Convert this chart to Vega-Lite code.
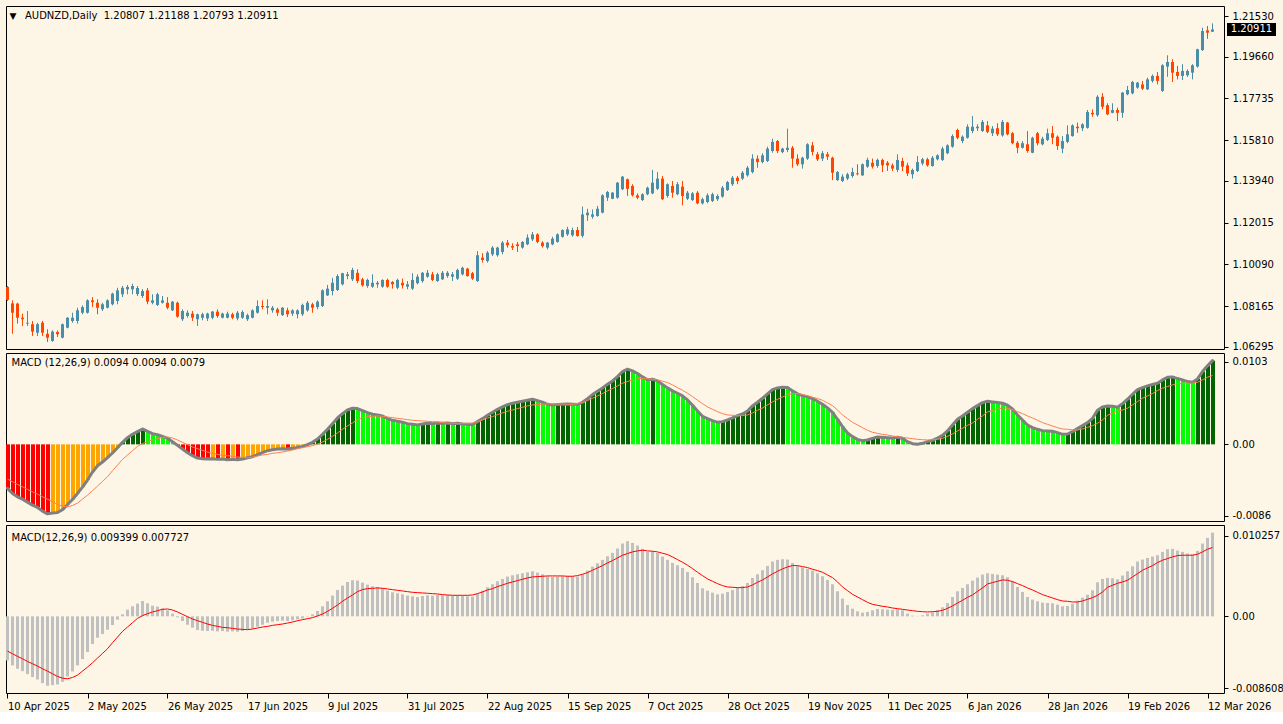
{
"$schema": "https://vega.github.io/schema/vega-lite/v6.json",
"background": "#FDF5E6",
"padding": {"left": 4, "top": 5, "right": 0, "bottom": 0},
"bounds": "flush",
"spacing": 4,
"config": {
  "font": "DejaVu Sans",
  "view": {"stroke": "#000000", "strokeWidth": 1},
  "axis": {"labelFont": "DejaVu Sans", "labelFontSize": 10, "labelColor": "#000000", "tickColor": "#000000", "domain": false, "grid": false, "ticks": true, "tickSize": 4, "labelPadding": 4, "labelBound": false, "labelFlush": false, "labelOverlap": false}
},
"data": {"values": [
{"i":0,"o":1.0905,"h":1.0909,"l":1.0840,"c":1.0845,"m":-0.00495,"s":-0.0039},
{"i":1,"o":1.0829,"h":1.0843,"l":1.0689,"c":1.0786,"m":-0.005513,"s":-0.0042},
{"i":2,"o":1.0828,"h":1.0832,"l":1.0736,"c":1.0763,"m":-0.005888,"s":-0.0045},
{"i":3,"o":1.0763,"h":1.0782,"l":1.0725,"c":1.0756,"m":-0.00615,"s":-0.004763},
{"i":4,"o":1.0736,"h":1.0794,"l":1.0725,"c":1.0740,"m":-0.006488,"s":-0.005063},
{"i":5,"o":1.0733,"h":1.0748,"l":1.0679,"c":1.0699,"m":-0.006825,"s":-0.005325},
{"i":6,"o":1.0694,"h":1.0740,"l":1.0679,"c":1.0733,"m":-0.007088,"s":-0.005588},
{"i":7,"o":1.0740,"h":1.0748,"l":1.0679,"c":1.0694,"m":-0.0075,"s":-0.005888},
{"i":8,"o":1.0689,"h":1.0710,"l":1.0651,"c":1.0671,"m":-0.0078,"s":-0.00615},
{"i":9,"o":1.0656,"h":1.0705,"l":1.0652,"c":1.0699,"m":-0.007725,"s":-0.00645},
{"i":10,"o":1.0697,"h":1.0705,"l":1.0674,"c":1.0687,"m":-0.00765,"s":-0.00675},
{"i":11,"o":1.0671,"h":1.0736,"l":1.0668,"c":1.0733,"m":-0.00735,"s":-0.006938},
{"i":12,"o":1.0717,"h":1.0766,"l":1.0714,"c":1.0763,"m":-0.00675,"s":-0.007013},
{"i":13,"o":1.0748,"h":1.0786,"l":1.0740,"c":1.0763,"m":-0.006188,"s":-0.006863},
{"i":14,"o":1.0748,"h":1.0809,"l":1.0736,"c":1.0797,"m":-0.005513,"s":-0.0066},
{"i":15,"o":1.0786,"h":1.0820,"l":1.0779,"c":1.0812,"m":-0.0048,"s":-0.00615},
{"i":16,"o":1.0786,"h":1.0848,"l":1.0782,"c":1.0843,"m":-0.004013,"s":-0.0057},
{"i":17,"o":1.0843,"h":1.0858,"l":1.0812,"c":1.0835,"m":-0.003113,"s":-0.005213},
{"i":18,"o":1.0832,"h":1.0848,"l":1.0779,"c":1.0809,"m":-0.0024,"s":-0.004688},
{"i":19,"o":1.0802,"h":1.0832,"l":1.0794,"c":1.0825,"m":-0.001988,"s":-0.004163},
{"i":20,"o":1.0809,"h":1.0848,"l":1.0806,"c":1.0843,"m":-0.0015,"s":-0.003638},
{"i":21,"o":1.0825,"h":1.0878,"l":1.0820,"c":1.0874,"m":-0.000975,"s":-0.002963},
{"i":22,"o":1.0840,"h":1.0901,"l":1.0825,"c":1.0889,"m":-0.000375,"s":-0.002325},
{"i":23,"o":1.0871,"h":1.0909,"l":1.0858,"c":1.0901,"m":0.000225,"s":-0.001688},
{"i":24,"o":1.0894,"h":1.0914,"l":1.0871,"c":1.0905,"m":0.00075,"s":-0.0012},
{"i":25,"o":1.0894,"h":1.0920,"l":1.0871,"c":1.0909,"m":0.001125,"s":-0.000713},
{"i":26,"o":1.0872,"h":1.0909,"l":1.0863,"c":1.0900,"m":0.001425,"s":-0.000225},
{"i":27,"o":1.0863,"h":1.0895,"l":1.0854,"c":1.0886,"m":0.001725,"s":0.000075},
{"i":28,"o":1.0889,"h":1.0900,"l":1.0825,"c":1.0837,"m":0.001463,"s":0.0003},
{"i":29,"o":1.0832,"h":1.0871,"l":1.0825,"c":1.0843,"m":0.0012,"s":0.000488},
{"i":30,"o":1.0822,"h":1.0878,"l":1.0817,"c":1.0871,"m":0.001088,"s":0.000638},
{"i":31,"o":1.0832,"h":1.0863,"l":1.0828,"c":1.0843,"m":0.0009,"s":0.000788},
{"i":32,"o":1.0832,"h":1.0858,"l":1.0802,"c":1.0809,"m":0.000675,"s":0.000825},
{"i":33,"o":1.0797,"h":1.0840,"l":1.0794,"c":1.0837,"m":0.0003,"s":0.000713},
{"i":34,"o":1.0832,"h":1.0837,"l":1.0763,"c":1.0768,"m":-0.000113,"s":0.000488},
{"i":35,"o":1.0756,"h":1.0802,"l":1.0748,"c":1.0794,"m":-0.000525,"s":0.000225},
{"i":36,"o":1.0771,"h":1.0797,"l":1.0763,"c":1.0786,"m":-0.000938,"s":-0.0000375},
{"i":37,"o":1.0782,"h":1.0794,"l":1.0748,"c":1.0763,"m":-0.001275,"s":-0.0003},
{"i":38,"o":1.0756,"h":1.0782,"l":1.0725,"c":1.0779,"m":-0.001538,"s":-0.000488},
{"i":39,"o":1.0763,"h":1.0786,"l":1.0751,"c":1.0779,"m":-0.001613,"s":-0.000675},
{"i":40,"o":1.0760,"h":1.0786,"l":1.0748,"c":1.0782,"m":-0.00165,"s":-0.000863},
{"i":41,"o":1.0763,"h":1.0794,"l":1.0756,"c":1.0791,"m":-0.001613,"s":-0.001013},
{"i":42,"o":1.0791,"h":1.0802,"l":1.0763,"c":1.0771,"m":-0.001688,"s":-0.001125},
{"i":43,"o":1.0763,"h":1.0786,"l":1.0760,"c":1.0782,"m":-0.00165,"s":-0.001238},
{"i":44,"o":1.0763,"h":1.0791,"l":1.0760,"c":1.0782,"m":-0.001725,"s":-0.001275},
{"i":45,"o":1.0779,"h":1.0786,"l":1.0756,"c":1.0763,"m":-0.001688,"s":-0.00135},
{"i":46,"o":1.0760,"h":1.0794,"l":1.0751,"c":1.0786,"m":-0.001725,"s":-0.001425},
{"i":47,"o":1.0763,"h":1.0797,"l":1.0758,"c":1.0789,"m":-0.00165,"s":-0.001463},
{"i":48,"o":1.0756,"h":1.0782,"l":1.0748,"c":1.0775,"m":-0.0015,"s":-0.0015},
{"i":49,"o":1.0763,"h":1.0802,"l":1.0760,"c":1.0797,"m":-0.001388,"s":-0.001425},
{"i":50,"o":1.0786,"h":1.0843,"l":1.0782,"c":1.0817,"m":-0.001163,"s":-0.001313},
{"i":51,"o":1.0817,"h":1.0843,"l":1.0802,"c":1.0812,"m":-0.000938,"s":-0.0012},
{"i":52,"o":1.0809,"h":1.0848,"l":1.0779,"c":1.0817,"m":-0.000713,"s":-0.001125},
{"i":53,"o":1.0797,"h":1.0817,"l":1.0786,"c":1.0809,"m":-0.0006,"s":-0.001013},
{"i":54,"o":1.0802,"h":1.0809,"l":1.0771,"c":1.0786,"m":-0.000525,"s":-0.000938},
{"i":55,"o":1.0775,"h":1.0812,"l":1.0771,"c":1.0809,"m":-0.000488,"s":-0.000863},
{"i":56,"o":1.0797,"h":1.0809,"l":1.0766,"c":1.0779,"m":-0.000525,"s":-0.00075},
{"i":57,"o":1.0782,"h":1.0802,"l":1.0771,"c":1.0797,"m":-0.00045,"s":-0.000638},
{"i":58,"o":1.0779,"h":1.0802,"l":1.0760,"c":1.0797,"m":-0.000338,"s":-0.000488},
{"i":59,"o":1.0779,"h":1.0828,"l":1.0771,"c":1.0822,"m":-0.000225,"s":-0.000375},
{"i":60,"o":1.0797,"h":1.0840,"l":1.0791,"c":1.0832,"m":-0.0000375,"s":-0.000263},
{"i":61,"o":1.0825,"h":1.0832,"l":1.0786,"c":1.0809,"m":0.000225,"s":-0.00015},
{"i":62,"o":1.0812,"h":1.0843,"l":1.0802,"c":1.0837,"m":0.0006,"s":0.0000375},
{"i":63,"o":1.0817,"h":1.0894,"l":1.0812,"c":1.0889,"m":0.001125,"s":0.000263},
{"i":64,"o":1.0866,"h":1.0914,"l":1.0863,"c":1.0897,"m":0.001688,"s":0.000563},
{"i":65,"o":1.0886,"h":1.0947,"l":1.0866,"c":1.0924,"m":0.002325,"s":0.0009},
{"i":66,"o":1.0891,"h":1.0963,"l":1.0886,"c":1.0955,"m":0.002963,"s":0.001275},
{"i":67,"o":1.0917,"h":1.0970,"l":1.0912,"c":1.0968,"m":0.00345,"s":0.001688},
{"i":68,"o":1.0955,"h":1.0974,"l":1.0940,"c":1.0963,"m":0.003863,"s":0.002063},
{"i":69,"o":1.0940,"h":1.0993,"l":1.0932,"c":1.0983,"m":0.00405,"s":0.0024},
{"i":70,"o":1.0970,"h":1.0986,"l":1.0922,"c":1.0932,"m":0.004013,"s":0.002775},
{"i":71,"o":1.0940,"h":1.0947,"l":1.0906,"c":1.0912,"m":0.003788,"s":0.003},
{"i":72,"o":1.0909,"h":1.0943,"l":1.0901,"c":1.0937,"m":0.003563,"s":0.003113},
{"i":73,"o":1.0906,"h":1.0963,"l":1.0901,"c":1.0924,"m":0.003375,"s":0.00315},
{"i":74,"o":1.0917,"h":1.0932,"l":1.0901,"c":1.0924,"m":0.0033,"s":0.003188},
{"i":75,"o":1.0906,"h":1.0940,"l":1.0901,"c":1.0937,"m":0.003188,"s":0.00315},
{"i":76,"o":1.0937,"h":1.0943,"l":1.0901,"c":1.0906,"m":0.002888,"s":0.003075},
{"i":77,"o":1.0928,"h":1.0932,"l":1.0897,"c":1.0917,"m":0.0027,"s":0.003},
{"i":78,"o":1.0901,"h":1.0943,"l":1.0894,"c":1.0937,"m":0.002588,"s":0.002925},
{"i":79,"o":1.0924,"h":1.0943,"l":1.0897,"c":1.0912,"m":0.002475,"s":0.00285},
{"i":80,"o":1.0906,"h":1.0932,"l":1.0894,"c":1.0917,"m":0.002325,"s":0.002775},
{"i":81,"o":1.0897,"h":1.0968,"l":1.0891,"c":1.0937,"m":0.00225,"s":0.0027},
{"i":82,"o":1.0922,"h":1.0963,"l":1.0917,"c":1.0952,"m":0.002175,"s":0.002663},
{"i":83,"o":1.0932,"h":1.0974,"l":1.0924,"c":1.0970,"m":0.002288,"s":0.002625},
{"i":84,"o":1.0952,"h":1.0983,"l":1.0947,"c":1.0970,"m":0.002363,"s":0.002588},
{"i":85,"o":1.0963,"h":1.0974,"l":1.0932,"c":1.0937,"m":0.002325,"s":0.00255},
{"i":86,"o":1.0932,"h":1.0970,"l":1.0928,"c":1.0963,"m":0.0024,"s":0.002513},
{"i":87,"o":1.0940,"h":1.0978,"l":1.0937,"c":1.0970,"m":0.002363,"s":0.002438},
{"i":88,"o":1.0955,"h":1.0978,"l":1.0947,"c":1.0970,"m":0.0024,"s":0.0024},
{"i":89,"o":1.0952,"h":1.0974,"l":1.0932,"c":1.0963,"m":0.002325,"s":0.002363},
{"i":90,"o":1.0943,"h":1.0989,"l":1.0937,"c":1.0983,"m":0.002363,"s":0.002363},
{"i":91,"o":1.0963,"h":1.0998,"l":1.0958,"c":1.0993,"m":0.002288,"s":0.002363},
{"i":92,"o":1.0989,"h":1.0993,"l":1.0952,"c":1.0955,"m":0.00225,"s":0.002363},
{"i":93,"o":1.0968,"h":1.0974,"l":1.0937,"c":1.0943,"m":0.002213,"s":0.0024},
{"i":94,"o":1.0932,"h":1.1070,"l":1.0928,"c":1.1051,"m":0.00255,"s":0.00255},
{"i":95,"o":1.1040,"h":1.1060,"l":1.1017,"c":1.1029,"m":0.002888,"s":0.002738},
{"i":96,"o":1.1024,"h":1.1070,"l":1.1017,"c":1.1063,"m":0.003263,"s":0.002963},
{"i":97,"o":1.1055,"h":1.1093,"l":1.1047,"c":1.1086,"m":0.0036,"s":0.003113},
{"i":98,"o":1.1051,"h":1.1090,"l":1.1044,"c":1.1086,"m":0.003938,"s":0.003338},
{"i":99,"o":1.1066,"h":1.1116,"l":1.1055,"c":1.1109,"m":0.0042,"s":0.003525},
{"i":100,"o":1.1109,"h":1.1121,"l":1.1086,"c":1.1097,"m":0.004463,"s":0.003713},
{"i":101,"o":1.1093,"h":1.1106,"l":1.1075,"c":1.1086,"m":0.004613,"s":0.003863},
{"i":102,"o":1.1101,"h":1.1112,"l":1.1066,"c":1.1093,"m":0.004725,"s":0.004013},
{"i":103,"o":1.1086,"h":1.1116,"l":1.1081,"c":1.1112,"m":0.004838,"s":0.004163},
{"i":104,"o":1.1101,"h":1.1147,"l":1.1097,"c":1.1132,"m":0.00495,"s":0.004313},
{"i":105,"o":1.1124,"h":1.1158,"l":1.1116,"c":1.1147,"m":0.005063,"s":0.004425},
{"i":106,"o":1.1147,"h":1.1152,"l":1.1106,"c":1.1112,"m":0.004913,"s":0.004463},
{"i":107,"o":1.1109,"h":1.1116,"l":1.1086,"c":1.1093,"m":0.004725,"s":0.0045},
{"i":108,"o":1.1086,"h":1.1112,"l":1.1078,"c":1.1109,"m":0.0045,"s":0.004538},
{"i":109,"o":1.1101,"h":1.1136,"l":1.1097,"c":1.1127,"m":0.004425,"s":0.004538},
{"i":110,"o":1.1112,"h":1.1152,"l":1.1109,"c":1.1147,"m":0.004463,"s":0.004538},
{"i":111,"o":1.1136,"h":1.1170,"l":1.1132,"c":1.1167,"m":0.0045,"s":0.004538},
{"i":112,"o":1.1147,"h":1.1182,"l":1.1140,"c":1.1170,"m":0.004538,"s":0.0045},
{"i":113,"o":1.1143,"h":1.1178,"l":1.1136,"c":1.1167,"m":0.0045,"s":0.0045},
{"i":114,"o":1.1167,"h":1.1181,"l":1.1136,"c":1.1140,"m":0.004463,"s":0.004575},
{"i":115,"o":1.1140,"h":1.1275,"l":1.1132,"c":1.1239,"m":0.004725,"s":0.004725},
{"i":116,"o":1.1235,"h":1.1265,"l":1.1209,"c":1.1247,"m":0.005138,"s":0.004913},
{"i":117,"o":1.1228,"h":1.1262,"l":1.1219,"c":1.1239,"m":0.005588,"s":0.005175},
{"i":118,"o":1.1232,"h":1.1278,"l":1.1228,"c":1.1265,"m":0.005963,"s":0.005438},
{"i":119,"o":1.1247,"h":1.1332,"l":1.1244,"c":1.1327,"m":0.006338,"s":0.0057},
{"i":120,"o":1.1316,"h":1.1347,"l":1.1301,"c":1.1342,"m":0.00675,"s":0.006},
{"i":121,"o":1.1311,"h":1.1342,"l":1.1309,"c":1.1339,"m":0.007125,"s":0.006263},
{"i":122,"o":1.1316,"h":1.1388,"l":1.1311,"c":1.1385,"m":0.007613,"s":0.006563},
{"i":123,"o":1.1355,"h":1.1416,"l":1.1351,"c":1.1413,"m":0.008175,"s":0.006863},
{"i":124,"o":1.1401,"h":1.1404,"l":1.1324,"c":1.1357,"m":0.008438,"s":0.00705},
{"i":125,"o":1.1370,"h":1.1378,"l":1.1321,"c":1.1327,"m":0.00825,"s":0.007238},
{"i":126,"o":1.1327,"h":1.1336,"l":1.1309,"c":1.1316,"m":0.00795,"s":0.00735},
{"i":127,"o":1.1305,"h":1.1336,"l":1.1301,"c":1.1332,"m":0.007575,"s":0.007425},
{"i":128,"o":1.1332,"h":1.1367,"l":1.1327,"c":1.1362,"m":0.007238,"s":0.00735},
{"i":129,"o":1.1336,"h":1.1444,"l":1.1332,"c":1.1385,"m":0.007313,"s":0.007313},
{"i":130,"o":1.1357,"h":1.1434,"l":1.1351,"c":1.1404,"m":0.007125,"s":0.007238},
{"i":131,"o":1.1404,"h":1.1416,"l":1.1305,"c":1.1309,"m":0.006713,"s":0.007088},
{"i":132,"o":1.1324,"h":1.1382,"l":1.1316,"c":1.1378,"m":0.006338,"s":0.006938},
{"i":133,"o":1.1370,"h":1.1393,"l":1.1316,"c":1.1339,"m":0.006,"s":0.006675},
{"i":134,"o":1.1332,"h":1.1388,"l":1.1327,"c":1.1378,"m":0.005738,"s":0.006375},
{"i":135,"o":1.1367,"h":1.1393,"l":1.1281,"c":1.1324,"m":0.005438,"s":0.006075},
{"i":136,"o":1.1311,"h":1.1347,"l":1.1305,"c":1.1339,"m":0.004988,"s":0.005738},
{"i":137,"o":1.1305,"h":1.1342,"l":1.1301,"c":1.1336,"m":0.004388,"s":0.005363},
{"i":138,"o":1.1339,"h":1.1347,"l":1.1286,"c":1.1290,"m":0.00375,"s":0.00495},
{"i":139,"o":1.1290,"h":1.1316,"l":1.1284,"c":1.1309,"m":0.00315,"s":0.004575},
{"i":140,"o":1.1296,"h":1.1336,"l":1.1290,"c":1.1327,"m":0.002888,"s":0.0042},
{"i":141,"o":1.1301,"h":1.1339,"l":1.1296,"c":1.1332,"m":0.002663,"s":0.003938},
{"i":142,"o":1.1309,"h":1.1332,"l":1.1301,"c":1.1324,"m":0.002475,"s":0.003675},
{"i":143,"o":1.1321,"h":1.1370,"l":1.1316,"c":1.1362,"m":0.00255,"s":0.00345},
{"i":144,"o":1.1351,"h":1.1393,"l":1.1347,"c":1.1388,"m":0.002738,"s":0.0033},
{"i":145,"o":1.1378,"h":1.1416,"l":1.1370,"c":1.1408,"m":0.002963,"s":0.003263},
{"i":146,"o":1.1408,"h":1.1416,"l":1.1378,"c":1.1393,"m":0.003225,"s":0.003225},
{"i":147,"o":1.1404,"h":1.1439,"l":1.1397,"c":1.1431,"m":0.003413,"s":0.003225},
{"i":148,"o":1.1419,"h":1.1462,"l":1.1413,"c":1.1454,"m":0.00375,"s":0.0033},
{"i":149,"o":1.1434,"h":1.1516,"l":1.1428,"c":1.1496,"m":0.004313,"s":0.003525},
{"i":150,"o":1.1496,"h":1.1511,"l":1.1454,"c":1.1480,"m":0.004725,"s":0.003825},
{"i":151,"o":1.1480,"h":1.1521,"l":1.1474,"c":1.1511,"m":0.005175,"s":0.004088},
{"i":152,"o":1.1485,"h":1.1551,"l":1.1480,"c":1.1542,"m":0.005663,"s":0.004425},
{"i":153,"o":1.1531,"h":1.1588,"l":1.1523,"c":1.1573,"m":0.00615,"s":0.004763},
{"i":154,"o":1.1577,"h":1.1582,"l":1.1521,"c":1.1531,"m":0.006338,"s":0.005063},
{"i":155,"o":1.1526,"h":1.1546,"l":1.1521,"c":1.1542,"m":0.006413,"s":0.005325},
{"i":156,"o":1.1536,"h":1.1634,"l":1.1526,"c":1.1546,"m":0.006375,"s":0.00555},
{"i":157,"o":1.1546,"h":1.1554,"l":1.1454,"c":1.1496,"m":0.006,"s":0.0057},
{"i":158,"o":1.1496,"h":1.1516,"l":1.1462,"c":1.1470,"m":0.005663,"s":0.0057},
{"i":159,"o":1.1470,"h":1.1505,"l":1.1450,"c":1.1500,"m":0.005475,"s":0.005588},
{"i":160,"o":1.1496,"h":1.1567,"l":1.1490,"c":1.1562,"m":0.005325,"s":0.005475},
{"i":161,"o":1.1557,"h":1.1573,"l":1.1511,"c":1.1527,"m":0.005138,"s":0.005288},
{"i":162,"o":1.1516,"h":1.1527,"l":1.1485,"c":1.1493,"m":0.004838,"s":0.005138},
{"i":163,"o":1.1496,"h":1.1531,"l":1.1485,"c":1.1521,"m":0.0045,"s":0.00495},
{"i":164,"o":1.1516,"h":1.1527,"l":1.1490,"c":1.1505,"m":0.004088,"s":0.00465},
{"i":165,"o":1.1500,"h":1.1505,"l":1.1397,"c":1.1431,"m":0.0036,"s":0.00435},
{"i":166,"o":1.1397,"h":1.1439,"l":1.1393,"c":1.1434,"m":0.002813,"s":0.003863},
{"i":167,"o":1.1393,"h":1.1424,"l":1.1388,"c":1.1413,"m":0.001988,"s":0.0033},
{"i":168,"o":1.1404,"h":1.1431,"l":1.1397,"c":1.1424,"m":0.001275,"s":0.002888},
{"i":169,"o":1.1416,"h":1.1454,"l":1.1408,"c":1.1434,"m":0.000863,"s":0.002475},
{"i":170,"o":1.1428,"h":1.1470,"l":1.1419,"c":1.1424,"m":0.000563,"s":0.002175},
{"i":171,"o":1.1419,"h":1.1474,"l":1.1416,"c":1.1470,"m":0.000413,"s":0.001875},
{"i":172,"o":1.1459,"h":1.1500,"l":1.1454,"c":1.1490,"m":0.000488,"s":0.001575},
{"i":173,"o":1.1477,"h":1.1496,"l":1.1450,"c":1.1459,"m":0.000675,"s":0.00135},
{"i":174,"o":1.1462,"h":1.1496,"l":1.1454,"c":1.1490,"m":0.000825,"s":0.001238},
{"i":175,"o":1.1490,"h":1.1496,"l":1.1434,"c":1.1465,"m":0.000788,"s":0.001125},
{"i":176,"o":1.1477,"h":1.1485,"l":1.1439,"c":1.1465,"m":0.00075,"s":0.00105},
{"i":177,"o":1.1465,"h":1.1474,"l":1.1439,"c":1.1450,"m":0.000713,"s":0.000938},
{"i":178,"o":1.1444,"h":1.1516,"l":1.1434,"c":1.1490,"m":0.000788,"s":0.000863},
{"i":179,"o":1.1485,"h":1.1500,"l":1.1439,"c":1.1459,"m":0.000675,"s":0.000788},
{"i":180,"o":1.1465,"h":1.1477,"l":1.1416,"c":1.1428,"m":0.0003,"s":0.000713},
{"i":181,"o":1.1424,"h":1.1450,"l":1.1404,"c":1.1444,"m":0.000075,"s":0.000638},
{"i":182,"o":1.1439,"h":1.1508,"l":1.1434,"c":1.1480,"m":0.00002,"s":0.000563},
{"i":183,"o":1.1474,"h":1.1500,"l":1.1465,"c":1.1493,"m":0.000113,"s":0.000525},
{"i":184,"o":1.1493,"h":1.1500,"l":1.1459,"c":1.1465,"m":0.0003,"s":0.000488},
{"i":185,"o":1.1462,"h":1.1508,"l":1.1459,"c":1.1500,"m":0.00045,"s":0.000525},
{"i":186,"o":1.1493,"h":1.1516,"l":1.1488,"c":1.1511,"m":0.000713,"s":0.000563},
{"i":187,"o":1.1490,"h":1.1551,"l":1.1485,"c":1.1542,"m":0.001013,"s":0.000675},
{"i":188,"o":1.1521,"h":1.1562,"l":1.1516,"c":1.1557,"m":0.0015,"s":0.0009},
{"i":189,"o":1.1551,"h":1.1608,"l":1.1546,"c":1.1600,"m":0.002175,"s":0.001163},
{"i":190,"o":1.1628,"h":1.1634,"l":1.1585,"c":1.1592,"m":0.002813,"s":0.0015},
{"i":191,"o":1.1577,"h":1.1603,"l":1.1567,"c":1.1597,"m":0.003188,"s":0.0018},
{"i":192,"o":1.1592,"h":1.1654,"l":1.1588,"c":1.1643,"m":0.0036,"s":0.002138},
{"i":193,"o":1.1623,"h":1.1692,"l":1.1613,"c":1.1643,"m":0.004013,"s":0.0024},
{"i":194,"o":1.1636,"h":1.1654,"l":1.1623,"c":1.1643,"m":0.00435,"s":0.002813},
{"i":195,"o":1.1623,"h":1.1674,"l":1.1619,"c":1.1665,"m":0.004688,"s":0.003188},
{"i":196,"o":1.1649,"h":1.1669,"l":1.1613,"c":1.1619,"m":0.004838,"s":0.003638},
{"i":197,"o":1.1613,"h":1.1646,"l":1.1600,"c":1.1634,"m":0.004763,"s":0.003788},
{"i":198,"o":1.1636,"h":1.1659,"l":1.1600,"c":1.1608,"m":0.004688,"s":0.003938},
{"i":199,"o":1.1603,"h":1.1674,"l":1.1597,"c":1.1665,"m":0.004613,"s":0.004088},
{"i":200,"o":1.1662,"h":1.1665,"l":1.1603,"c":1.1608,"m":0.004388,"s":0.00405},
{"i":201,"o":1.1613,"h":1.1619,"l":1.1562,"c":1.1567,"m":0.003975,"s":0.0039},
{"i":202,"o":1.1569,"h":1.1577,"l":1.1521,"c":1.1546,"m":0.0033,"s":0.003675},
{"i":203,"o":1.1546,"h":1.1577,"l":1.1542,"c":1.1567,"m":0.002738,"s":0.00345},
{"i":204,"o":1.1562,"h":1.1623,"l":1.1523,"c":1.1531,"m":0.002175,"s":0.003188},
{"i":205,"o":1.1523,"h":1.1597,"l":1.1521,"c":1.1592,"m":0.001875,"s":0.002963},
{"i":206,"o":1.1613,"h":1.1619,"l":1.1557,"c":1.1567,"m":0.001688,"s":0.0027},
{"i":207,"o":1.1562,"h":1.1597,"l":1.1557,"c":1.1588,"m":0.001538,"s":0.002438},
{"i":208,"o":1.1582,"h":1.1634,"l":1.1577,"c":1.1613,"m":0.0015,"s":0.00225},
{"i":209,"o":1.1613,"h":1.1646,"l":1.1562,"c":1.1592,"m":0.001463,"s":0.002063},
{"i":210,"o":1.1597,"h":1.1603,"l":1.1536,"c":1.1554,"m":0.001313,"s":0.001875},
{"i":211,"o":1.1542,"h":1.1600,"l":1.1521,"c":1.1577,"m":0.001125,"s":0.001725},
{"i":212,"o":1.1573,"h":1.1649,"l":1.1567,"c":1.1608,"m":0.001163,"s":0.001688},
{"i":213,"o":1.1600,"h":1.1654,"l":1.1597,"c":1.1649,"m":0.001425,"s":0.001613},
{"i":214,"o":1.1643,"h":1.1662,"l":1.1615,"c":1.1636,"m":0.001763,"s":0.001613},
{"i":215,"o":1.1636,"h":1.1659,"l":1.1623,"c":1.1654,"m":0.0021,"s":0.001725},
{"i":216,"o":1.1638,"h":1.1720,"l":1.1634,"c":1.1711,"m":0.002438,"s":0.001913},
{"i":217,"o":1.1707,"h":1.1723,"l":1.1689,"c":1.1700,"m":0.002925,"s":0.0021},
{"i":218,"o":1.1696,"h":1.1788,"l":1.1689,"c":1.1781,"m":0.003825,"s":0.002363},
{"i":219,"o":1.1781,"h":1.1797,"l":1.1723,"c":1.1735,"m":0.0042,"s":0.002738},
{"i":220,"o":1.1742,"h":1.1751,"l":1.1696,"c":1.1700,"m":0.004313,"s":0.003263},
{"i":221,"o":1.1707,"h":1.1751,"l":1.1705,"c":1.1720,"m":0.004275,"s":0.003488},
{"i":222,"o":1.1720,"h":1.1731,"l":1.1669,"c":1.1707,"m":0.004163,"s":0.003713},
{"i":223,"o":1.1707,"h":1.1803,"l":1.1684,"c":1.1800,"m":0.004575,"s":0.003863},
{"i":224,"o":1.1792,"h":1.1831,"l":1.1788,"c":1.1812,"m":0.005063,"s":0.00405},
{"i":225,"o":1.1797,"h":1.1854,"l":1.1792,"c":1.1849,"m":0.005625,"s":0.004425},
{"i":226,"o":1.1823,"h":1.1849,"l":1.1818,"c":1.1846,"m":0.00615,"s":0.0048},
{"i":227,"o":1.1838,"h":1.1854,"l":1.1812,"c":1.1818,"m":0.006375,"s":0.005175},
{"i":228,"o":1.1815,"h":1.1869,"l":1.1812,"c":1.1861,"m":0.006563,"s":0.005438},
{"i":229,"o":1.1854,"h":1.1884,"l":1.1846,"c":1.1877,"m":0.006713,"s":0.0057},
{"i":230,"o":1.1877,"h":1.1895,"l":1.1838,"c":1.1854,"m":0.006863,"s":0.006038},
{"i":231,"o":1.1808,"h":1.1931,"l":1.1803,"c":1.1926,"m":0.007238,"s":0.0063},
{"i":232,"o":1.1920,"h":1.1972,"l":1.1873,"c":1.1941,"m":0.007538,"s":0.006488},
{"i":233,"o":1.1941,"h":1.1954,"l":1.1849,"c":1.1892,"m":0.007575,"s":0.006675},
{"i":234,"o":1.1895,"h":1.1923,"l":1.1861,"c":1.1877,"m":0.007388,"s":0.006825},
{"i":235,"o":1.1877,"h":1.1931,"l":1.1858,"c":1.1900,"m":0.007238,"s":0.006863},
{"i":236,"o":1.1880,"h":1.1907,"l":1.1873,"c":1.1900,"m":0.00705,"s":0.006863},
{"i":237,"o":1.1892,"h":1.1931,"l":1.1861,"c":1.1926,"m":0.006975,"s":0.006863},
{"i":238,"o":1.1920,"h":1.2002,"l":1.1915,"c":1.2000,"m":0.00735,"s":0.006975},
{"i":239,"o":1.1996,"h":1.2099,"l":1.1992,"c":1.2084,"m":0.008175,"s":0.007238},
{"i":240,"o":1.2087,"h":1.2107,"l":1.2048,"c":1.2076,"m":0.008813,"s":0.007538},
{"i":241,"o":1.20807,"h":1.21188,"l":1.20793,"c":1.20911,"m":0.009399,"s":0.007727}
]},
"vconcat": [
{
  "width": 1218, "height": 343,
  "layer": [
    {"mark": {"type": "rule", "strokeWidth": 1},
     "encoding": {
       "x": {"field": "i", "type": "quantitative", "title": null, "scale": {"domain": [-0.3, 243.3], "nice": false, "zero": false}, "axis": null},
       "y": {"field": "l", "type": "quantitative", "title": null, "scale": {"domain": [1.06189, 1.21991], "nice": false, "zero": false},
             "axis": {"orient": "right", "values": [1.2153, 1.1966, 1.17735, 1.1581, 1.1394, 1.12015, 1.1009, 1.08165, 1.06295], "format": ".5f"}},
       "y2": {"field": "h"},
       "color": {"condition": {"test": "datum.c >= datum.o", "value": "#4A8DA8"}, "value": "#FF4500"}
     }},
    {"mark": {"type": "rule", "strokeWidth": 3},
     "encoding": {
       "x": {"field": "i", "type": "quantitative", "title": null},
       "y": {"field": "o", "type": "quantitative", "title": null},
       "y2": {"field": "c"},
       "color": {"condition": {"test": "datum.c >= datum.o", "value": "#4A8DA8"}, "value": "#FF4500"}
     }},
    {"data": {"values": [{}]},
     "mark": {"type": "rect", "color": "#000000", "clip": false},
     "encoding": {"x": {"datum": 243.9}, "x2": {"datum": 253.7}, "y": {"datum": 1.2061}, "y2": {"datum": 1.2121}}},
    {"data": {"values": [{}]},
     "mark": {"type": "text", "fill": "#FFFFFF", "align": "center", "baseline": "middle", "fontSize": 10, "clip": false},
     "encoding": {"x": {"datum": 248.8}, "y": {"datum": 1.20911}, "text": {"value": "1.20911"}}},
    {"data": {"values": [{}]},
     "mark": {"type": "text", "fill": "#000000", "align": "left", "baseline": "middle", "fontSize": 10},
     "encoding": {"x": {"datum": 3.5}, "y": {"datum": 1.2153}, "text": {"value": "AUDNZD,Daily\u00a0 1.20807 1.21188 1.20793 1.20911"}}},
    {"data": {"values": [{}]},
     "mark": {"type": "text", "fill": "#000000", "align": "left", "baseline": "middle", "fontSize": 9},
     "encoding": {"x": {"datum": 0.4}, "y": {"datum": 1.2153}, "text": {"value": "▼"}}}
  ]
},
{
  "width": 1218, "height": 168,
  "layer": [
    {"transform": [{"window": [{"op": "lag", "field": "m", "as": "pm"}], "sort": [{"field": "i"}]}],
     "mark": {"type": "rule", "strokeWidth": 4, "xOffset": 0.5},
     "encoding": {
       "x": {"field": "i", "type": "quantitative", "title": null, "scale": {"domain": [-0.3, 243.3], "nice": false, "zero": false}, "axis": null},
       "y": {"field": "m", "type": "quantitative", "title": null, "scale": {"domain": [-0.008608, 0.010257], "nice": false, "zero": false},
             "axis": {"orient": "right", "values": [0.00925, 0, -0.008], "labelExpr": "datum.value > 0.001 ? '0.0103' : (datum.value < -0.001 ? '-0.0086' : '0.00')"}},
       "y2": {"datum": 0},
       "color": {"condition": [
          {"test": "datum.m >= 0 && datum.m >= datum.pm", "value": "#006400"},
          {"test": "datum.m >= 0", "value": "#00FF00"},
          {"test": "datum.m < datum.pm", "value": "#FF0000"}
        ], "value": "#FFA500"}
     }},
    {"mark": {"type": "line", "color": "#808080", "strokeWidth": 3, "strokeJoin": "round", "strokeCap": "round"},
     "encoding": {"x": {"field": "i", "type": "quantitative", "title": null}, "y": {"field": "m", "type": "quantitative", "title": null}}},
    {"mark": {"type": "line", "color": "#FF7F50", "strokeWidth": 1},
     "encoding": {"x": {"field": "i", "type": "quantitative", "title": null}, "y": {"field": "s", "type": "quantitative", "title": null}}},
    {"data": {"values": [{}]},
     "mark": {"type": "text", "fill": "#000000", "align": "left", "baseline": "middle", "fontSize": 10},
     "encoding": {"x": {"datum": 0.8}, "y": {"datum": 0.00917}, "text": {"value": "MACD (12,26,9) 0.0094 0.0094 0.0079"}}}
  ]
},
{
  "width": 1218, "height": 168,
  "layer": [
    {"mark": {"type": "rule", "strokeWidth": 3, "color": "#C0C0C0"},
     "encoding": {
       "x": {"field": "i", "type": "quantitative", "title": null, "scale": {"domain": [-0.3, 243.3], "nice": false, "zero": false},
             "axis": {"orient": "bottom", "values": [0,16,32,48,64,80,96,112,128,144,160,176,192,208,224,240], "tickSize": 5, "labelPadding": 3, "labelAlign": "left", "labelBaseline": "top",
                      "labelExpr": "['10 Apr 2025','2 May 2025','26 May 2025','17 Jun 2025','9 Jul 2025','31 Jul 2025','22 Aug 2025','15 Sep 2025','7 Oct 2025','28 Oct 2025','19 Nov 2025','11 Dec 2025','6 Jan 2026','28 Jan 2026','19 Feb 2026','12 Mar 2026'][round(datum.value/16)]"}},
       "y": {"field": "m", "type": "quantitative", "title": null, "scale": {"domain": [-0.008608, 0.010257], "nice": false, "zero": false},
             "axis": {"orient": "right", "values": [0.009022, 0, -0.008047], "labelExpr": "datum.value > 0.001 ? '0.010257' : (datum.value < -0.001 ? '-0.008608' : '0.00')"}},
       "y2": {"datum": 0}
     }},
    {"mark": {"type": "line", "color": "#FF0000", "strokeWidth": 1},
     "encoding": {"x": {"field": "i", "type": "quantitative", "title": null}, "y": {"field": "s", "type": "quantitative", "title": null}}},
    {"data": {"values": [{}]},
     "mark": {"type": "text", "fill": "#000000", "align": "left", "baseline": "middle", "fontSize": 10},
     "encoding": {"x": {"datum": 0.8}, "y": {"datum": 0.00883}, "text": {"value": "MACD(12,26,9) 0.009399 0.007727"}}}
  ]
}
]
}
